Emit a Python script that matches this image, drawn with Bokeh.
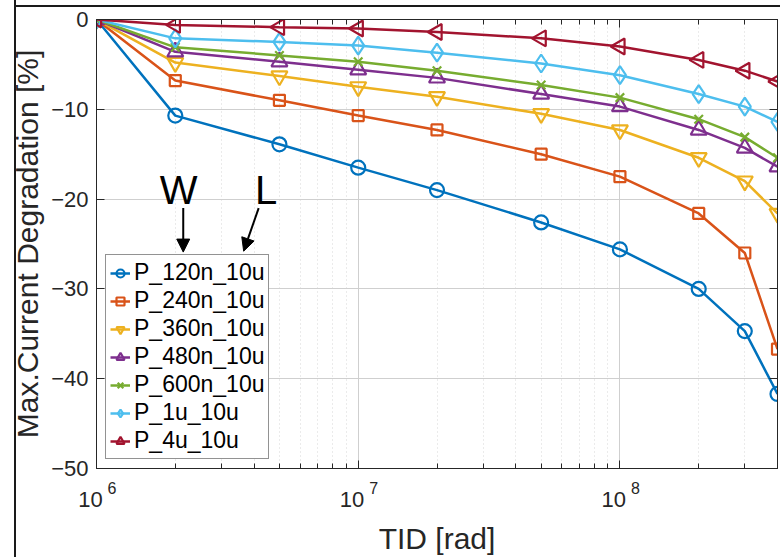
from bokeh.plotting import figure
from bokeh.models import (Range1d, FixedTicker, LogAxis, LinearAxis, Legend, LegendItem,
                          CustomJSTickFormatter, Label, Arrow, NormalHead)
from bokeh.embed import file_html
from bokeh.resources import INLINE
import math

# ---------------- data ----------------
tid = [1e6, 2e6, 5e6, 1e7, 2e7, 5e7, 1e8, 2e8, 3e8, 4e8]
p_120n = [0, -10.7, -13.9, -16.5, -19.0, -22.6, -25.6, -30.0, -34.7, -41.7]
p_240n = [0, -6.8, -9.0, -10.7, -12.3, -15.0, -17.5, -21.6, -26.0, -36.7]
p_360n = [0, -4.8, -6.3, -7.5, -8.6, -10.5, -12.3, -15.4, -18.0, -21.6]
p_480n = [0, -3.6, -4.7, -5.6, -6.5, -8.3, -9.7, -12.3, -14.3, -16.4]
p_600n = [0, -3.1, -4.0, -4.7, -5.7, -7.3, -8.7, -11.1, -13.1, -15.4]
p_1u = [0, -2.1, -2.5, -2.9, -3.7, -4.9, -6.2, -8.3, -9.7, -11.4]
p_4u = [0, -0.6, -0.85, -1.0, -1.4, -2.1, -3.0, -4.5, -5.7, -6.9]

labels = ["P_120n_10u", "P_240n_10u", "P_360n_10u", "P_480n_10u",
          "P_600n_10u", "P_1u_10u", "P_4u_10u"]
series = [p_120n, p_240n, p_360n, p_480n, p_600n, p_1u, p_4u]
colors = ["#0072BD", "#D95319", "#EDB120", "#7E2F8E", "#77AC30", "#4DBEEE", "#A2142F"]
markers = ["circle", "square", "inverted_triangle", "triangle", "x", "diamond", "triangle"]
marker_sizes = [14, 11, 16, 16, 12, 18, 16]
marker_angles = [0, 0, 0, 0, 0, 0, math.pi / 2]

x_major = [1e6, 1e7, 1e8]
x_minor = [m * 10 ** e for e in (6, 7, 8) for m in range(2, 10) if m * 10 ** e <= 4e8]
y_major = [-50, -40, -30, -20, -10, 0]

# annotations (data coordinates)
w_text = ("W", 2.06e6, -19.0)
l_text = ("L", 4.45e6, -19.0)
w_arrow = (2.145e6, -21.0, 2.145e6, -25.9)
l_arrow = (4.165e6, -21.0, 3.65e6, -25.8)

FONT = "Liberation Sans"
TXT = "#262626"

p = figure(width=780, height=557, x_axis_type="log",
           x_range=Range1d(1e6, 4e8), y_range=Range1d(-50, 0),
           output_backend="svg", toolbar_location=None,
           min_border_left=96, min_border_right=3, min_border_top=19, min_border_bottom=89)
p.border_fill_alpha = 0
p.background_fill_color = "white"
p.outline_line_color = TXT
p.outline_line_width = 1
p.styles = {
    "background-image": "linear-gradient(#1a1a1a,#1a1a1a), linear-gradient(#1a1a1a,#1a1a1a)",
    "background-size": "2px 100%, 100% 2px",
    "background-position": "14px 0px, 14px 5px",
    "background-repeat": "no-repeat",
}

xt = FixedTicker(ticks=x_major, minor_ticks=x_minor)
yt = FixedTicker(ticks=y_major, minor_ticks=[])

# exponent labels (nearest the frame), shifted right with no-break spaces
exp_code = """
const e = Math.round(Math.log10(tick));
return '\u00a0'.repeat(7) + String(e);
"""
# base "10" labels, shifted left with no-break spaces
ten_code = "return '10' + '\u00a0\u00a0';"
yfmt_code = "return tick < 0 ? '\u2212' + String(-tick) : String(tick);"

xa = p.xaxis[0]
xa.ticker = xt
xa.formatter = CustomJSTickFormatter(code=exp_code)
ya = p.yaxis[0]
ya.ticker = yt
ya.formatter = CustomJSTickFormatter(code=yfmt_code)
ya.axis_label = "Max.Current Degradation [%]"

for ax in (xa, ya):
    ax.axis_line_color = TXT
    ax.major_tick_line_color = TXT
    ax.minor_tick_line_color = TXT
    ax.major_tick_in = 8
    ax.major_tick_out = 0
    ax.minor_tick_in = 5
    ax.minor_tick_out = 0
    ax.major_label_text_font = FONT
    ax.major_label_text_font_size = "22px"
    ax.major_label_text_color = TXT
    ax.axis_label_text_font = FONT
    ax.axis_label_text_font_size = "30px"
    ax.axis_label_text_font_style = "normal"
    ax.axis_label_text_color = TXT
xa.major_label_text_font_size = "16px"
xa.major_label_standoff = 11
ya.major_label_standoff = 8
ya.axis_label_standoff = 4

xb = LogAxis(ticker=xt, formatter=CustomJSTickFormatter(code=ten_code),
             axis_line_color=None, major_tick_line_color=None, minor_tick_line_color=None,
             major_tick_in=0, major_tick_out=0, minor_tick_in=0, minor_tick_out=0,
             major_label_standoff=-13,
             major_label_text_font=FONT, major_label_text_font_size="22px",
             major_label_text_color=TXT,
             axis_label="TID [rad]", axis_label_text_font=FONT,
             axis_label_text_font_size="30px", axis_label_text_font_style="normal",
             axis_label_text_color=TXT, axis_label_standoff=7)
p.add_layout(xb, "below")

top = LogAxis(ticker=xt, major_label_text_font_size="1px", major_label_text_alpha=0,
              axis_line_color=TXT,
              major_tick_line_color=TXT, minor_tick_line_color=TXT,
              major_tick_in=8, major_tick_out=0, minor_tick_in=5, minor_tick_out=0,
              major_label_standoff=0)
right = LinearAxis(ticker=yt, major_label_text_font_size="1px", major_label_text_alpha=0,
                   axis_line_color=TXT,
                   major_tick_line_color=TXT, major_tick_in=8, major_tick_out=0,
                   minor_tick_in=0, minor_tick_out=0, major_label_standoff=0)
p.add_layout(top, "above")
p.add_layout(right, "right")

p.xgrid.ticker = xt
p.ygrid.ticker = yt
p.xgrid.grid_line_color = "#cfcfcf"
p.ygrid.grid_line_color = "#cfcfcf"
p.xgrid.minor_grid_line_color = "#d6d6d6"
p.xgrid.minor_grid_line_dash = "1 3"
p.ygrid.minor_grid_line_color = None

items = []
for lab, ys, c, m, s, a in zip(labels, series, colors, markers, marker_sizes, marker_angles):
    lr = p.line(tid, ys, line_color=c, line_width=2.5)
    sr = p.scatter(tid, ys, marker=m, size=s, angle=a, line_color=c, line_width=2.2,
                   fill_alpha=0)
    items.append(LegendItem(label=lab, renderers=[lr, sr]))

legend = Legend(items=items, location=(9, 9), label_text_font=FONT,
                label_text_font_size="23px", label_text_color="black",
                glyph_width=20, glyph_height=26, label_height=26, spacing=1,
                padding=4, margin=0, label_standoff=4,
                border_line_color=TXT, border_line_width=1,
                background_fill_color="white", background_fill_alpha=1)
p.add_layout(legend)

for t, x, y in (w_text, l_text):
    p.add_layout(Label(x=x, y=y, text=t, text_font=FONT, text_font_size="40px",
                       text_align="center", text_baseline="alphabetic", text_color="black"))

for xs, ys, xe, ye in (w_arrow, l_arrow):
    p.add_layout(Arrow(end=NormalHead(size=13, fill_color="black", line_color="black",
                                      line_width=1),
                       x_start=xs, y_start=ys, x_end=xe, y_end=ye,
                       line_width=2, line_color="black", level="overlay"))

open("out.html", "w").write(file_html(p, INLINE))
